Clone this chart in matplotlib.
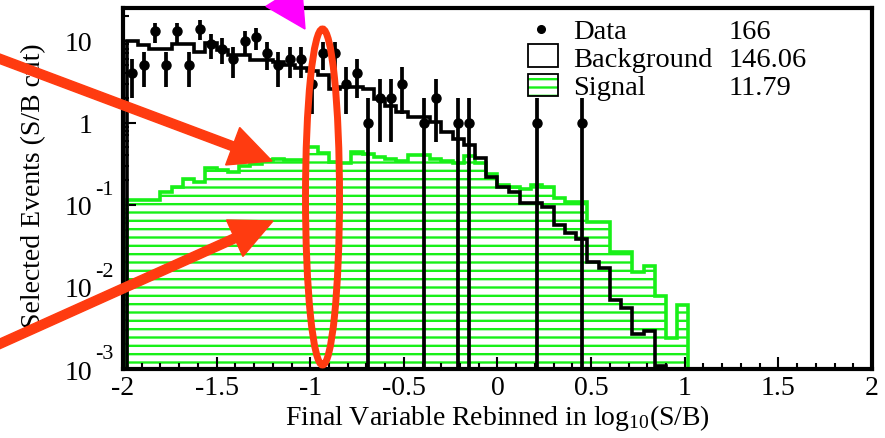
import matplotlib
matplotlib.use('Agg')
import matplotlib.pyplot as plt
import numpy as np
from matplotlib.patches import Ellipse, FancyArrow, Rectangle
from matplotlib.transforms import IdentityTransform, blended_transform_factory

# histogram binning: 0.06 wide bins in log10(S/B)
firstEdge = -1.98
binWidth = 0.06
nBins = 50

signal = [0.113, 0.113, 0.116, 0.143, 0.164, 0.207, 0.189, 0.28, 0.267, 0.25,
          0.296, 0.316, 0.347, 0.364, 0.347, 0.354, 0.50, 0.43, 0.33, 0.325,
          0.446, 0.418, 0.38, 0.36, 0.34, 0.41, 0.41, 0.357, 0.34, 0.32,
          0.39, 0.32, 0.24, 0.175, 0.166, 0.157, 0.175, 0.165, 0.121, 0.108,
          0.108, 0.0615, 0.0615, 0.027, 0.027, 0.015, 0.018, 0.0078, 0.0024, 0.006]

background = [9.9, 8.8, 8.0, 8.0, 9.2, 9.2, 7.3, 9.4, 7.7, 6.6,
              6.6, 5.75, 5.75, 5.5, 5.0, 4.6, 4.3, 3.8, 2.6, 2.7,
              2.7, 2.6, 1.96, 1.62, 1.35, 1.17, 1.17, 1.02, 0.78, 0.64,
              0.53, 0.37, 0.22, 0.164, 0.143, 0.106, 0.106, 0.094, 0.057, 0.046,
              0.038, 0.02, 0.017, 0.007, 0.0055, 0.0027, 0.0029, 0.0011]

data = [4, 5, 13, 5, 13, 5, 14, 9, 8, 6,
        10, 11, 7, 5, 6, 6, 3, 7, 7, 3,
        4, 1, 2, 2, 3, 0, 1, 2, 0, 1,
        1, 0, 0, 0, 0, 0, 1, 0, 0, 0,
        1, 0, 0, 0, 0, 0, 0, 0, 0, 0]

legendNames = ['Data', 'Background', 'Signal']
legendNumbers = ['166', '146.06', '11.79']

xTicks = [-2, -1.5, -1, -0.5, 0, 0.5, 1, 1.5, 2]
xTickLabels = ['-2', '-1.5', '-1', '-0.5', '0', '0.5', '1', '1.5', '2']
yTicks = [1e-3, 1e-2, 1e-1, 1, 10]
yTickBase = ['10', '10', '10', '1', '10']
yTickExpo = ['-3', '-2', '-1', '', '']

green = '#18f018'
red = '#ff3b10'

plt.rcParams['font.family'] = ['Liberation Serif', 'DejaVu Serif']
plt.rcParams['mathtext.fontset'] = 'custom'
plt.rcParams['mathtext.rm'] = 'Liberation Serif'
plt.rcParams['mathtext.it'] = 'Liberation Serif:italic'
plt.rcParams['axes.unicode_minus'] = False
plt.rcParams['hatch.linewidth'] = 1.7
plt.rcParams['hatch.color'] = green

edges = np.round(firstEdge + binWidth * np.arange(nBins + 1), 3)
centers = 0.5 * (edges[:-1] + edges[1:])

fig = plt.figure(figsize=(8.85, 4.39), dpi=100)
ax = fig.add_axes([123 / 885, 1 - 370 / 439, 749 / 885, 361 / 439])
ax.set_yscale('log')

# signal: hatched green
ax.stairs(signal, edges, baseline=1e-6, fill=True, facecolor='none', edgecolor=green,
          hatch='--', linewidth=0, zorder=1)
ax.stairs(signal, edges, baseline=1e-6, color=green, linewidth=2.6, zorder=2)

# background
ax.stairs(background, edges[:len(background) + 1], baseline=1e-6, color='black',
          linewidth=2.6, zorder=3)

# data, empty bins not drawn
counts = np.array(data, dtype=float)
mask = counts > 0
ax.errorbar(centers[mask], counts[mask], yerr=np.sqrt(counts[mask]), fmt='o', color='black',
            ms=6.5, elinewidth=2.7, capsize=0, zorder=4)

ax.set_xlim(-2, 2)
ax.set_ylim(1e-3, 25)

ax.set_xticks(xTicks)
ax.set_xticklabels(xTickLabels, fontsize=20)
ax.set_xticks(np.arange(-2, 2.01, 0.1), minor=True)
ax.set_yticks(yTicks)
ax.set_yticklabels([])
ax.tick_params(which='both', direction='in', top=False, right=False, width=1.5)
ax.tick_params(which='major', length=9)
ax.tick_params(which='minor', length=4.5)
ax.tick_params(axis='x', pad=4)
for s in ax.spines.values():
    s.set_linewidth(3)

# ROOT style log labels: exponent up and to the right of the 10
trans = blended_transform_factory(ax.transAxes, ax.transData)
for val, base, expo in zip(yTicks, yTickBase, yTickExpo):
    ax.text(-0.0414, val, base, transform=trans, ha='right', va='center_baseline', fontsize=20)
    if expo:
        ax.annotate(expo, xy=(-0.0414, val), xycoords=trans, xytext=(3, 18),
                    textcoords='offset pixels', ha='left', va='center_baseline', fontsize=16,
                    annotation_clip=False)

ax.set_xlabel('Final Variable Rebinned in log$_{10}$(S/B)', fontsize=20, va='center')
ax.xaxis.set_label_coords(0.5, -0.133)
ax.set_ylabel('Selected Events (S/B cut)', fontsize=20, va='center')
ax.yaxis.set_label_coords(-0.12, 0.51)

# legend
ax.plot([0.558], [0.942], 'o', color='black', ms=5.5, transform=ax.transAxes, clip_on=False)
ax.add_patch(Rectangle((0.541, 0.837), 0.040, 0.063, transform=ax.transAxes, fill=False,
                       edgecolor='black', linewidth=1.3))
ax.add_patch(Rectangle((0.541, 0.756), 0.040, 0.061, transform=ax.transAxes, facecolor='none',
                       edgecolor=green, hatch='--', linewidth=0))
ax.add_patch(Rectangle((0.541, 0.756), 0.040, 0.061, transform=ax.transAxes, fill=False,
                       edgecolor='black', linewidth=1.3))
for row, name, num in zip([0.942, 0.867, 0.789], legendNames, legendNumbers):
    ax.text(0.601, row, name, transform=ax.transAxes, ha='left', va='center_baseline', fontsize=20.5)
    ax.text(0.809, row, num, transform=ax.transAxes, ha='left', va='center_baseline', fontsize=20.5)

# hand drawn markings on top of the plot (pixel coordinates)
pix = IdentityTransform()
fig.add_artist(Ellipse((322.5, 241), 34, 336, fill=False, edgecolor=red, linewidth=5,
                       transform=pix, zorder=10))
fig.add_artist(FancyArrow(-5, 381, 277, -104, width=9, head_width=40, head_length=42,
                          length_includes_head=True, color=red, transform=pix, zorder=10))
fig.add_artist(FancyArrow(-5, 92, 278, 125, width=9, head_width=40, head_length=42,
                          length_includes_head=True, color=red, transform=pix, zorder=10))
fig.add_artist(FancyArrow(225, 536, 80, -127, width=8, head_width=42, head_length=40,
                          length_includes_head=True, color='#ff00ff', transform=pix, zorder=10))

fig.savefig('out.png', dpi=100)
